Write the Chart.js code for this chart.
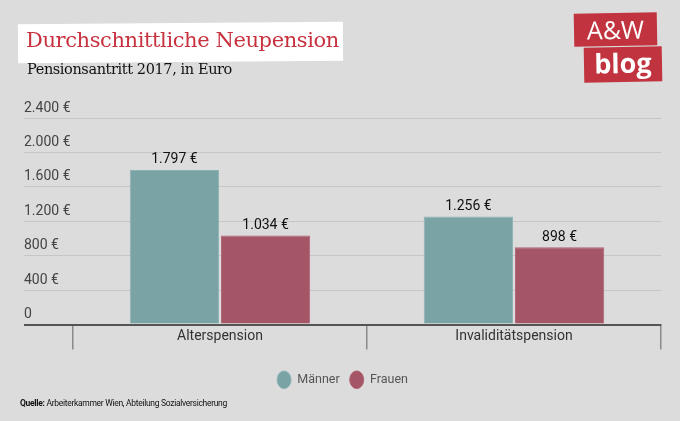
<!DOCTYPE html>
<html>
<head>
<meta charset="utf-8">
<script src="https://cdn.jsdelivr.net/npm/chart.js@4"></script>
<style>
  html, body { margin: 0; padding: 0; }
  body { width: 680px; height: 421px; background: #dcdcdc; position: relative; overflow: hidden; font-family: "Roboto", sans-serif; }
  #chart_wrap { position: absolute; left: 0; top: 0; width: 680px; height: 421px; }
  .title_box { position: absolute; left: 18px; top: 23px; width: 325px; height: 39px; background: #fff; transform: rotate(-0.4deg); }
  .title { position: absolute; left: 26px; top: 28px; font-family: "DejaVu Serif", serif; font-size: 21px; color: #c8313e; white-space: nowrap; letter-spacing: -0.4px; }
  .subtitle { position: absolute; left: 27px; top: 61px; font-family: "DejaVu Serif", serif; font-size: 14.5px; color: #111; white-space: nowrap; letter-spacing: -0.4px; }
  .logo1 { position: absolute; left: 574px; top: 13px; width: 83px; height: 33px; background: #c1333e; transform: rotate(-1deg); color: #fff; font-family: "Open Sans", sans-serif; font-size: 25px; line-height: 33px; text-align: center; }
  .logo2 { position: absolute; left: 584px; top: 47px; width: 78px; height: 35px; background: #c1333e; transform: rotate(-1deg); color: #fff; font-family: "Open Sans", sans-serif; font-weight: bold; font-size: 27px; line-height: 32px; text-align: center; }
  .source { position: absolute; left: 20px; top: 398px; font-family: "Roboto", sans-serif; font-size: 8.5px; color: #111; white-space: nowrap; letter-spacing: -0.3px; }
</style>
</head>
<body>
<div id="chart_wrap"><canvas id="pension_chart"></canvas></div>
<div class="title_box"></div>
<div class="title">Durchschnittliche Neupension</div>
<div class="subtitle">Pensionsantritt 2017, in Euro</div>
<div class="logo1">A&amp;W</div>
<div class="logo2">blog</div>
<div class="source"><b>Quelle:</b> Arbeiterkammer Wien, Abteilung Sozialversicherung</div>
<script>
const categories = ["Alterspension", "Invaliditätspension"];
const maenner = [1797, 1256];
const frauen = [1034, 898];
const y_ticks = [0, 400, 800, 1200, 1600, 2000, 2400];

function euro(v) {
  return v.toLocaleString("de-DE") + " €";
}

const bar_labels = {
  id: "bar_labels",
  afterDatasetsDraw(chart) {
    const ctx = chart.ctx;
    ctx.save();
    ctx.font = "14px Roboto";
    ctx.fillStyle = "#111";
    ctx.textAlign = "center";
    ctx.textBaseline = "bottom";
    chart.data.datasets.forEach((ds, i) => {
      chart.getDatasetMeta(i).data.forEach((bar, j) => {
        ctx.fillText(euro(ds.data[j]), bar.x, bar.y - 3);
      });
    });
    ctx.restore();
  },
};

const canvas = document.getElementById("pension_chart");

const chart = new Chart(canvas, {
  type: "bar",
  data: {
    labels: categories,
    datasets: [
      {
        label: "Männer",
        data: maenner,
        backgroundColor: "#7aa3a5",
        borderColor: "#8fb2b3",
        borderWidth: 1,
        categoryPercentage: 0.62,
        barPercentage: 0.98,
      },
      {
        label: "Frauen",
        data: frauen,
        backgroundColor: "#a45566",
        borderColor: "#b06272",
        borderWidth: 1,
        categoryPercentage: 0.62,
        barPercentage: 0.98,
      },
    ],
  },
  options: {
    responsive: true,
    maintainAspectRatio: false,
    animation: false,
    layout: { padding: { left: 24, right: 19, top: 118, bottom: 25 } },
    plugins: {
      tooltip: { enabled: false },
      legend: {
        position: "bottom",
        labels: {
          usePointStyle: true,
          pointStyle: "circle",
          pointStyleWidth: 14,
          boxHeight: 13,
          color: "#555",
          font: { family: "Roboto", size: 12.5 },
          padding: 10,
        },
      },
    },
    scales: {
      x: {
        offset: true,
        afterFit: (s) => { s.height = 39; },
        border: { color: "#555", width: 2 },
        grid: {
          offset: true,
          drawOnChartArea: false,
          drawTicks: true,
          tickLength: 25,
          color: "#8a8a8a",
          lineWidth: 1.5,
        },
        ticks: {
          color: "#333",
          font: { family: "Roboto", size: 14 },
          padding: -21,
        },
      },
      y: {
        min: 0,
        max: 2400,
        afterFit: (s) => { s.width = 49; },
        afterBuildTicks: (s) => { s.ticks = y_ticks.map((v) => ({ value: v })); },
        border: { display: false },
        grid: {
          drawTicks: true,
          tickLength: 49,
          color: (c) => (c.tick && c.tick.value === 0 ? "#555" : "#c6c6c6"),
          lineWidth: (c) => (c.tick && c.tick.value === 0 ? 2 : 1),
        },
        ticks: {
          crossAlign: "far",
          labelOffset: -10,
          color: "#444",
          font: { family: "Roboto", size: 14 },
          callback: (v) => (v === 0 ? "0" : euro(v)),
        },
      },
    },
  },
  plugins: [bar_labels],
});
</script>
</body>
</html>
